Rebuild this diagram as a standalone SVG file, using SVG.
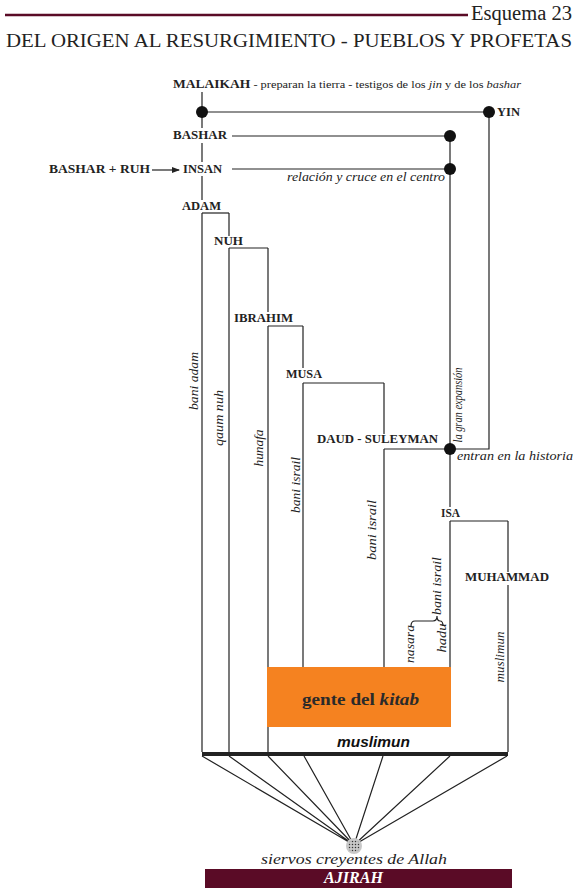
<svg xmlns="http://www.w3.org/2000/svg" width="578" height="892" viewBox="0 0 578 892">
<style>
  .ln{stroke:#222;stroke-width:1.2;fill:none}
  .dot{fill:#111}
  .cap{font-family:"Liberation Serif",serif;font-weight:bold;font-size:11.5px;fill:#222}
  .it{font-family:"Liberation Serif",serif;font-style:italic;font-size:12px;fill:#222}
  .rt{font-family:"Liberation Serif",serif;font-style:italic;font-size:12.5px;fill:#222}
  .rg{font-family:"Liberation Serif",serif;font-size:11px;fill:#222}
</style>
<defs>
  <marker id="arr" markerWidth="8" markerHeight="6" refX="7" refY="3" orient="auto" markerUnits="userSpaceOnUse">
    <path d="M0,0 L8,3 L0,6 Z" fill="#222"/>
  </marker>
  <pattern id="stip" width="3" height="3" patternUnits="userSpaceOnUse">
    <circle cx="1.5" cy="1.5" r="0.75" fill="#333"/>
  </pattern>
</defs>

<g id="header">
  <line x1="5" y1="15" x2="468" y2="15" stroke="#5a0b26" stroke-width="2.5"/>
  <text x="471" y="20" font-family="Liberation Serif,serif" font-size="20" fill="#222" textLength="101" lengthAdjust="spacingAndGlyphs">Esquema 23</text>
  <text x="6" y="47" font-family="Liberation Serif,serif" font-size="19" fill="#222" textLength="566" lengthAdjust="spacingAndGlyphs">DEL ORIGEN AL RESURGIMIENTO - PUEBLOS Y PROFETAS</text>
</g>

<g id="connectors">
  <path class="ln" d="M202,92 V128 M202,143 V162 M202,176 V200 M202,213 V752"/>
  <path class="ln" d="M229,213 V236 M229,248 V752"/>
  <path class="ln" d="M268,248 V312 M268,326 V752"/>
  <path class="ln" d="M303,326 V368 M303,383 V667"/>
  <path class="ln" d="M384,383 V434 M384,449 V667"/>
  <path class="ln" d="M450,136 V507 M450,521 V667"/>
  <path class="ln" d="M489,112 V449 H450"/>
  <path class="ln" d="M508,521 V572 M508,585 V752"/>
  <path class="ln" d="M202,112 H489"/>
  <path class="ln" d="M232,136 H450"/>
  <path class="ln" d="M232,169 H450"/>
  <path class="ln" d="M202,213 H229"/>
  <path class="ln" d="M229,248 H268"/>
  <path class="ln" d="M268,326 H303"/>
  <path class="ln" d="M303,383 H384"/>
  <path class="ln" d="M384,449 H450"/>
  <path class="ln" d="M450,521 H508"/>
  <line class="ln" x1="152" y1="170" x2="179" y2="170" marker-end="url(#arr)"/>
  <path class="ln" d="M411,626 Q411,621 415,621 L433,621 Q437,621 437,616 Q437,621 440,621 Q443,621 443,626"/>
  <line x1="202" y1="754" x2="508" y2="754" stroke="#222" stroke-width="4"/>
  <path class="ln" d="M202,756 L354,845 M229,756 L354,845 M268,756 L354,845 M304,756 L354,845 M383,756 L354,845 M450,756 L354,845 M507,756 L354,845"/>
  <circle class="dot" cx="202" cy="112" r="6"/>
  <circle class="dot" cx="489" cy="112" r="6"/>
  <circle class="dot" cx="450" cy="136" r="6"/>
  <circle class="dot" cx="450" cy="169" r="6"/>
  <circle class="dot" cx="450" cy="449" r="6"/>
</g>

<g id="malaikah">
  <text x="173" y="88" class="rg" textLength="348" lengthAdjust="spacingAndGlyphs"><tspan font-weight="bold" font-size="12">MALAIKAH</tspan> - preparan la tierra - testigos de los <tspan font-style="italic">jin</tspan> y de los <tspan font-style="italic">bashar</tspan></text>
</g>
<g id="yin"><text x="497" y="116" class="cap" textLength="23" lengthAdjust="spacingAndGlyphs">YIN</text></g>
<g id="bashar"><text x="173" y="139" class="cap" textLength="54" lengthAdjust="spacingAndGlyphs">BASHAR</text></g>
<g id="bashar-ruh"><text x="49" y="173" class="cap" textLength="101" lengthAdjust="spacingAndGlyphs">BASHAR + RUH</text></g>
<g id="insan">
  <text x="183" y="173" class="cap" textLength="39" lengthAdjust="spacingAndGlyphs">INSAN</text>
  <text x="287" y="181" class="it" textLength="158" lengthAdjust="spacingAndGlyphs">relación y cruce en el centro</text>
</g>
<g id="adam">
  <text x="182" y="210" class="cap" textLength="39" lengthAdjust="spacingAndGlyphs">ADAM</text>
  <text transform="translate(198,381) rotate(-90)" text-anchor="middle" class="rt" textLength="58" lengthAdjust="spacingAndGlyphs">bani adam</text>
</g>
<g id="nuh">
  <text x="214" y="245" class="cap" textLength="29" lengthAdjust="spacingAndGlyphs">NUH</text>
  <text transform="translate(223,418) rotate(-90)" text-anchor="middle" class="rt" textLength="56" lengthAdjust="spacingAndGlyphs">qaum nuh</text>
</g>
<g id="ibrahim">
  <text x="234" y="322" class="cap" textLength="59" lengthAdjust="spacingAndGlyphs">IBRAHIM</text>
  <text transform="translate(263,448) rotate(-90)" text-anchor="middle" class="rt" textLength="37" lengthAdjust="spacingAndGlyphs">hunafa</text>
</g>
<g id="musa">
  <text x="286" y="378" class="cap" textLength="36" lengthAdjust="spacingAndGlyphs">MUSA</text>
  <text transform="translate(300,485) rotate(-90)" text-anchor="middle" class="rt" textLength="56" lengthAdjust="spacingAndGlyphs">bani israil</text>
</g>
<g id="daud-suleyman">
  <text x="317" y="443" class="cap" textLength="121" lengthAdjust="spacingAndGlyphs">DAUD - SULEYMAN</text>
  <text transform="translate(376,530) rotate(-90)" text-anchor="middle" class="rt" textLength="60" lengthAdjust="spacingAndGlyphs">bani israil</text>
</g>
<g id="expansion">
  <text transform="translate(462,405) rotate(-90)" text-anchor="middle" class="rt" textLength="75" lengthAdjust="spacingAndGlyphs">la gran expansión</text>
  <text x="457" y="460" class="it" textLength="116" lengthAdjust="spacingAndGlyphs">entran en la historia</text>
</g>
<g id="isa">
  <text x="441" y="517" class="cap" textLength="19" lengthAdjust="spacingAndGlyphs">ISA</text>
  <text transform="translate(441,586) rotate(-90)" text-anchor="middle" class="rt" textLength="58" lengthAdjust="spacingAndGlyphs">bani israil</text>
  <text transform="translate(414,644) rotate(-90)" text-anchor="middle" class="rt" textLength="38" lengthAdjust="spacingAndGlyphs">nasara</text>
  <text transform="translate(446,638) rotate(-90)" text-anchor="middle" class="rt" textLength="29" lengthAdjust="spacingAndGlyphs">hadu</text>
</g>
<g id="muhammad">
  <text x="465" y="581" class="cap" textLength="84" lengthAdjust="spacingAndGlyphs">MUHAMMAD</text>
  <text transform="translate(504,657) rotate(-90)" text-anchor="middle" class="rt" textLength="51" lengthAdjust="spacingAndGlyphs">muslimun</text>
</g>
<g id="gente-del-kitab">
  <rect x="267" y="667" width="184" height="60" fill="#f58220"/>
  <text x="302" y="705" font-family="Liberation Serif,serif" font-weight="bold" font-size="17" fill="#2a2a2a" textLength="117" lengthAdjust="spacingAndGlyphs">gente del <tspan font-style="italic">kitab</tspan></text>
</g>
<g id="muslimun">
  <text x="337" y="747" font-family="Liberation Sans,sans-serif" font-weight="bold" font-style="italic" font-size="15" fill="#111" textLength="73" lengthAdjust="spacingAndGlyphs">muslimun</text>
</g>
<g id="siervos">
  <circle cx="354" cy="846" r="8" fill="#c8c8c8"/>
  <circle cx="354" cy="846" r="6" fill="url(#stip)"/>
  <text x="261" y="864" font-family="Liberation Serif,serif" font-style="italic" font-size="15" fill="#222" textLength="186" lengthAdjust="spacingAndGlyphs">siervos creyentes de Allah</text>
</g>
<g id="ajirah">
  <rect x="205" y="869" width="307" height="19" fill="#5a0b26"/>
  <text x="324" y="883" font-family="Liberation Serif,serif" font-weight="bold" font-style="italic" font-size="16" fill="#fff" textLength="59" lengthAdjust="spacingAndGlyphs">AJIRAH</text>
</g>
</svg>
